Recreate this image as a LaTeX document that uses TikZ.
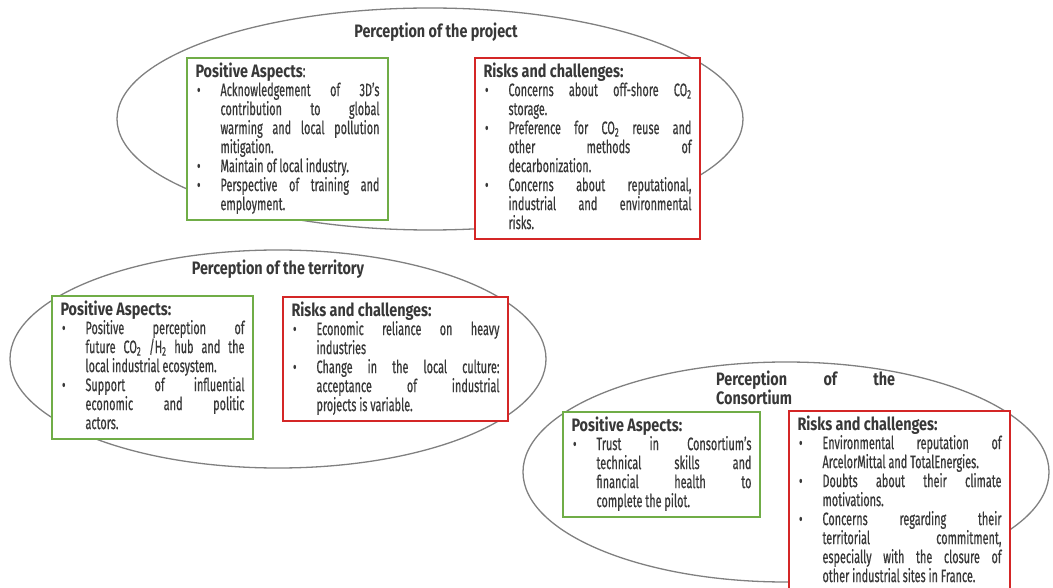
\documentclass[tikz,border=0pt]{standalone}
\usepackage{fontspec}
\setmainfont{Fira Sans}[FakeStretch=0.605, UprightFeatures={FakeBold=0.5},
  BoldFeatures={FakeStretch=0.8}]
\definecolor{posgreen}{RGB}{112,173,71}
\definecolor{riskred}{RGB}{212,38,38}
\definecolor{txtgray}{RGB}{56,56,56}
\definecolor{ringgray}{RGB}{128,128,128}
\hbadness=10000
\newcommand\tightlines{\lineskiplimit=-20pt\relax\lineskip=0pt\relax}
\newcommand\bodyfont{\fontsize{18}{19}\selectfont\tightlines}
\newcommand\bhead[1]{\noindent\strut\textbf{#1}}
\newcommand\bitem[1]{\par\hangindent=25pt\hangafter=1\noindent
  \hbox to 25pt{\hspace{1.5pt}\textbullet\hfil}\strut#1\strut\par}

\begin{document}
\begin{tikzpicture}[x=1pt, y=-1pt,
    every node/.style={font=\bodyfont, text=txtgray},
    ring/.style={ringgray, line width=1.3pt},
    posbox/.style={draw=posgreen, fill=white, line width=2pt, anchor=north west,
      inner xsep=8.5pt, inner ysep=4.5pt, align=justify},
    riskbox/.style={posbox, draw=riskred},
    title/.style={font=\bodyfont\bfseries}]
  \useasboundingbox (0,0) rectangle (1053,588);

  % the three perceptions
  \coordinate (cp) at (430,119);
  \coordinate (ct) at (278,359);
  \coordinate (cc) at (786,472);
  \draw[ring] (cp) ellipse[x radius=313, y radius=111];
  \draw[ring] (ct) ellipse[x radius=268, y radius=109];
  \draw[ring] (cc) ellipse[x radius=263, y radius=110];

  % project
  \node[title] (tp) at (436,32) {Perception of the project};
  \node[posbox, text width=184] (gp) at (186,57) {%
    \bhead{Positive Aspects}:
    \bitem{Acknowledgement of 3D’s\linebreak contribution to global\linebreak
      warming and local pollution\linebreak mitigation.}
    \bitem{Maintain of local industry.}
    \bitem{Perspective of training and\linebreak employment.}};
  \node[riskbox, text width=208] (rp) at (474,57) {%
    \bhead{Risks and challenges:}
    \bitem{Concerns about off-shore CO\textsubscript{2}\linebreak storage.}
    \bitem{Preference for CO\textsubscript{2} reuse and\linebreak other methods of\linebreak
      decarbonization.}
    \bitem{Concerns about reputational,\linebreak industrial and environmental\linebreak
      risks.}};

  % territory
  \node[title] (tt) at (278,269) {Perception of the territory};
  \node[posbox, text width=184] (gt) at (51,295) {%
    \bhead{Positive Aspects:}
    \bitem{Positive perception of\linebreak future CO\textsubscript{2} /H\textsubscript{2} hub and the\linebreak
      local industrial ecosystem.}
    \bitem{Support of influential\linebreak economic and politic\linebreak actors.}};
  \node[riskbox, text width=208] (rt) at (282,296) {%
    \bhead{Risks and challenges:}
    \bitem{Economic reliance on heavy\linebreak industries}
    \bitem{Change in the local culture:\linebreak acceptance of industrial\linebreak
      projects is variable.}};

  % consortium
  \node[title, anchor=north west, text width=179, align=justify, inner sep=0pt]
    (tc) at (716,371) {Perception of the\linebreak Consortium};
  \node[posbox, text width=180] (gc) at (562,411) {%
    \bhead{Positive Aspects:}
    \bitem{Trust in Consortium’s\linebreak technical skills and\linebreak
      financial health to\linebreak complete the pilot.}};
  \node[riskbox, text width=204] (rc) at (788,410) {%
    \bhead{Risks and challenges:}
    \bitem{Environmental reputation of\linebreak ArcelorMittal and TotalEnergies.}
    \bitem{Doubts about their climate\linebreak motivations.}
    \bitem{Concerns regarding their\linebreak territorial commitment,\linebreak
      especially with the closure of\linebreak other industrial sites in France.}};
\end{tikzpicture}
\end{document}
